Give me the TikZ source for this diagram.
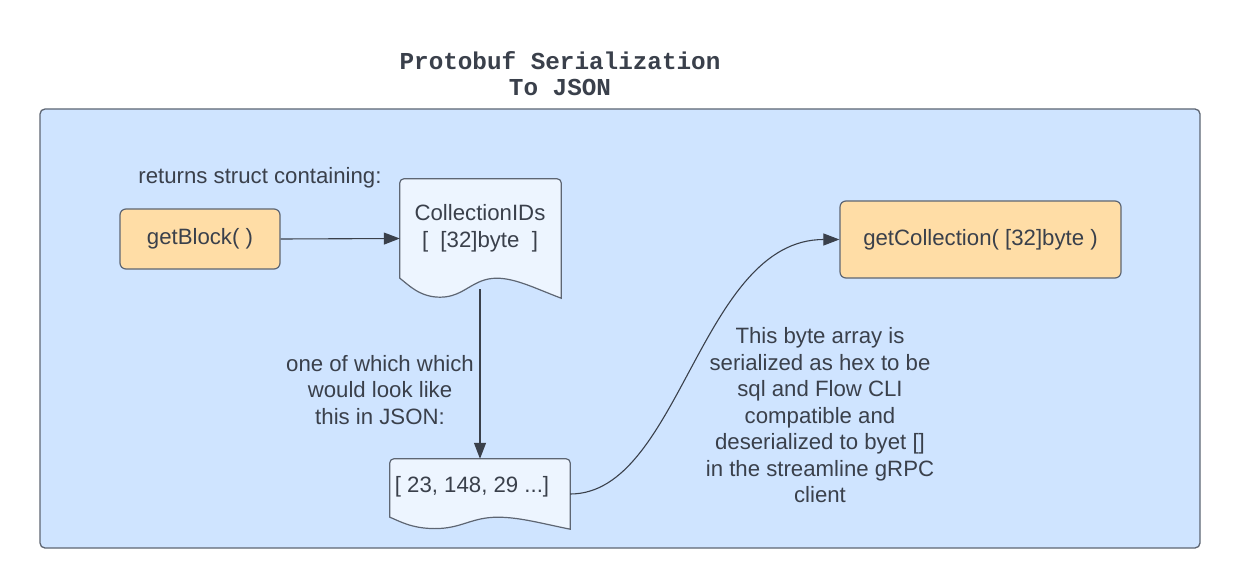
\documentclass[tikz,border=0pt]{standalone}
\usepackage{fontspec}
\setmainfont{Liberation Sans}
\newfontfamily\titlefont{Liberation Mono}
\usetikzlibrary{arrows.meta,calc}
\definecolor{bgblue}{HTML}{CFE4FF}
\definecolor{docfill}{HTML}{EDF5FF}
\definecolor{orangefill}{HTML}{FFDDA6}
\definecolor{edgegray}{HTML}{5E6673}
\definecolor{ink}{HTML}{3A404B}
\newcommand\drawdoc[2]{%
  \draw[docline] let \p1=(#1.north west), \p2=(#1.south east), \n1={\x2-\x1} in
    (\x1,\y2+#2) [rounded corners=4pt]-- (\x1,\y1) -- (\x2,\y1) [sharp corners]-- (\x2,\y2)
    .. controls (\x1+0.85*\n1,\y2+0.45*#2) and (\x1+0.72*\n1,\y2+#2) .. (\x1+0.6*\n1,\y2+#2)
    .. controls (\x1+0.45*\n1,\y2+#2) and (\x1+0.4*\n1,\y2+0.05*#2) .. (\x1+0.25*\n1,\y2+0.05*#2)
    .. controls (\x1+0.12*\n1,\y2+0.05*#2) and (\x1+0.05*\n1,\y2+0.7*#2) .. cycle;}
\begin{document}
\begin{tikzpicture}[x=1pt,y=-1pt,
  every node/.style={text=ink,font=\fontsize{22.2}{26.5}\selectfont},
  container/.style={draw=edgegray,line width=1.3pt,fill=bgblue,rounded corners=5pt,minimum width=1160pt,minimum height=439pt,inner sep=0pt},
  fnbox/.style={draw=edgegray,line width=1.2pt,fill=orangefill,rounded corners=6pt,inner sep=0pt},
  docframe/.style={draw=none,inner sep=0pt},
  docline/.style={draw=edgegray,line width=1.2pt,fill=docfill},
  plain/.style={align=center,inner sep=0pt},
  arrowline/.style={draw=ink,line width=1.1pt,-{Triangle[length=16pt,width=12pt]}},
  titlestyle/.style={align=center,inner sep=0pt,font=\titlefont\bfseries\fontsize{24.3}{26}\selectfont,text=ink}]
\useasboundingbox (0,0) rectangle (1247,588);
\fill[white] (0,0) rectangle (1247,588);
\node[titlestyle] (title) at (560,74) {Protobuf Serialization\\To JSON};
\node[container] (frame) at (620,328.5) {};
\node[fnbox,minimum width=160pt,minimum height=60pt] (getblock) at (200,239) {getBlock( )};
\node[fnbox,minimum width=281pt,minimum height=77pt] (getcoll) at (980.5,239.5) {getCollection( [32]byte )};
\node[docframe,minimum width=161pt,minimum height=119pt] (colids) at (480.5,238.5) {};
\drawdoc{colids}{20}
\node[plain] (colidstext) at (480,228.5) {CollectionIDs\\{[}\ \ [32]byte\ \ ]};
\node[docframe,minimum width=180pt,minimum height=70pt] (json) at (480,494) {};
\drawdoc{json}{12}
\node[plain] (jsontext) at (472,487) {[ 23, 148, 29 ...]};
\node[plain] (returns) at (260,178) {returns struct containing:};
\node[plain] (oneof) at (380,390) {one of which which\\would look like\\this in JSON:};
\node[plain] (para) at (820,415.5) {This byte array is\\serialized as hex to be\\sql and Flow CLI\\compatible and\\deserialized to byet []\\in the streamline gRPC\\client};
\coordinate (colout) at (480,289);
\draw[arrowline] (getblock.east) -- (colids.west);
\draw[arrowline] (colout) -- (json.north);
\draw[arrowline] (json.east) .. controls (680,494) and (700,239.5) .. (getcoll.west);
\end{tikzpicture}
\end{document}
